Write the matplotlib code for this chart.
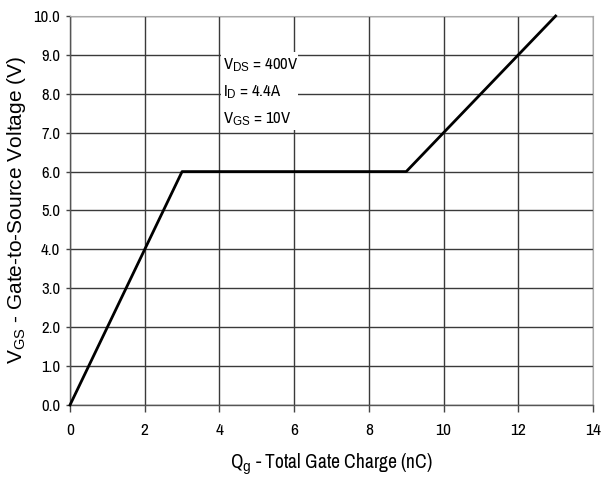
import matplotlib
matplotlib.use("Agg")
import matplotlib.pyplot as plt
from matplotlib.patches import Rectangle

# Gate charge curve: Vgs vs total gate charge
qg_nc = [0, 3, 9, 13]
vgs_v = [0.0, 6.0, 6.0, 10.0]

x_ticks = [0, 2, 4, 6, 8, 10, 12, 14]
y_ticks = [0.0, 1.0, 2.0, 3.0, 4.0, 5.0, 6.0, 7.0, 8.0, 9.0, 10.0]

conditions = [r"V$_{\mathrm{DS}}$ = 400V", r"I$_{\mathrm{D}}$ = 4.4A", r"V$_{\mathrm{GS}}$ = 10V"]

narrow = "Archivo Narrow"
plt.rcParams["font.family"] = [narrow, "DejaVu Sans"]
plt.rcParams["mathtext.fontset"] = "custom"
plt.rcParams["mathtext.rm"] = narrow
plt.rcParams["mathtext.it"] = narrow
plt.rcParams["mathtext.bf"] = narrow

fig = plt.figure(figsize=(6.02, 4.83), dpi=100)
ax = fig.add_axes([70 / 602, 1 - 405 / 483, (593 - 70) / 602, (405 - 16) / 483])

ax.set_xlim(0, 14)
ax.set_ylim(0, 10)
ax.set_xticks(x_ticks)
ax.set_yticks(y_ticks)
ax.set_xticklabels([str(t) for t in x_ticks], fontsize=12.5)
ax.set_yticklabels([f"{t:.1f}" for t in y_ticks], fontsize=12)
ax.tick_params(axis="x", length=5, width=1, color="#444444", pad=8)
ax.tick_params(axis="y", length=3, width=1, color="#444444", pad=4)

ax.grid(True, color="#3a3a3a", linewidth=1.0, zorder=1)
ax.set_axisbelow(True)
for side in ["top", "right"]:
    ax.spines[side].set_color("#aaaaaa")
for side in ["left", "bottom"]:
    ax.spines[side].set_color("#555555")
    ax.spines[side].set_linewidth(1.0)

ax.plot(qg_nc, vgs_v, color="black", linewidth=2.0, zorder=4, clip_on=False)

# white panel behind the test conditions
ax.add_patch(Rectangle((4.03, 7.08), 2.07, 2.0, facecolor="white",
                       edgecolor="none", zorder=2))
for label, yv in zip(conditions, [8.74, 8.03, 7.36]):
    ax.text(4.09, yv, label, fontsize=12, va="center", ha="left", zorder=5)

ax.set_xlabel(r"Q$_{\mathrm{g}}$ - Total Gate Charge (nC)", fontsize=14, labelpad=10)

plt.rcParams["mathtext.rm"] = "Liberation Sans"
ax.set_ylabel(r"V$_{\mathrm{GS}}$ - Gate-to-Source Voltage (V)", fontsize=15,
              family=["Liberation Sans", "DejaVu Sans"], labelpad=4)

fig.savefig("out.png", dpi=100)
